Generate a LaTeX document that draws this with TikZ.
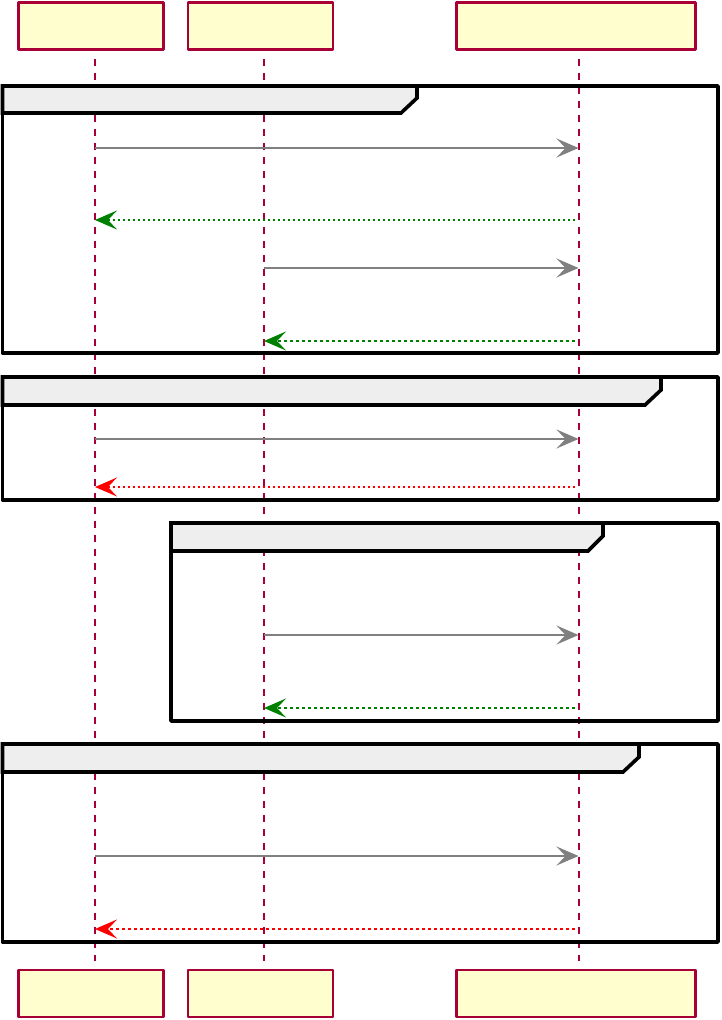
\documentclass[tikz,border=0pt]{standalone}
\usetikzlibrary{arrows.meta}
\definecolor{lifered}{HTML}{A80036}
\definecolor{boxyellow}{HTML}{FEFECE}
\definecolor{tabgray}{HTML}{EEEEEE}
\definecolor{okgreen}{HTML}{008000}
\tikzset{
  part/.style={draw=lifered, fill=boxyellow, line width=2.6pt, minimum height=47pt, inner sep=0pt},
  life/.style={draw=lifered, line width=1.6pt, dash pattern=on 7pt off 7pt},
  frm/.style={draw=black, line width=3.6pt},
  tabbox/.style={draw=black, fill=tabgray, line width=3.6pt, line join=miter},
  head/.style={-{Stealth[length=22pt, width=19pt, inset=9pt]}},
  call/.style={head, draw=gray, line width=1.3pt},
  callb/.style={head, draw=gray, line width=2.2pt},
  ret/.style={head, line width=1.3pt, dash pattern=on 2.5pt off 2.5pt},
  retb/.style={head, line width=2.2pt, dash pattern=on 3pt off 3pt}
}
\begin{document}
\begin{tikzpicture}[x=1pt, y=-1pt, line join=round]
  \useasboundingbox (0,0) rectangle (721,1020);
  % participants
  \node[part, minimum width=145pt] (ta) at (91.25,26) {};
  \node[part, minimum width=145pt] (tb) at (260.5,26) {};
  \node[part, minimum width=239pt] (tc) at (576,26) {};
  \node[part, minimum width=145pt] (ba) at (91.25,993.5) {};
  \node[part, minimum width=145pt] (bb) at (260.5,993.5) {};
  \node[part, minimum width=239pt] (bc) at (576,993.5) {};
  % lifelines
  \coordinate (la1) at (95,59);  \coordinate (la2) at (95,961);
  \coordinate (lb1) at (264,59); \coordinate (lb2) at (264,961);
  \coordinate (lc1) at (579,59); \coordinate (lc2) at (579,961);
  \draw[life] (la1)--(la2);
  \draw[life] (lb1)--(lb2);
  \draw[life] (lc1)--(lc2);
  % groups
  \filldraw[tabbox] (2.5,86)--(417,86)--(417,98)--(401,113)--(2.5,113)--cycle;
  \draw[frm] (2.5,86) rectangle (718,353);
  \filldraw[tabbox] (2.5,377)--(661,377)--(661,390)--(645,405)--(2.5,405)--cycle;
  \draw[frm] (2.5,377) rectangle (718,500);
  \filldraw[tabbox] (171,523)--(603,523)--(603,536)--(588,551)--(171,551)--cycle;
  \draw[frm] (171,523) rectangle (718,721);
  \filldraw[tabbox] (2.5,744)--(639,744)--(639,757)--(623,772)--(2.5,772)--cycle;
  \draw[frm] (2.5,744) rectangle (718,942);
  % messages
  \coordinate (a1) at (95,148);   \coordinate (c1) at (578.5,148);
  \coordinate (c2) at (575,220);  \coordinate (a2) at (95,220);
  \coordinate (b3) at (264,268);  \coordinate (c3) at (578.5,268);
  \coordinate (c4) at (575,341);  \coordinate (b4) at (264,341);
  \coordinate (a5) at (95,439);   \coordinate (c5) at (578.5,439);
  \coordinate (c6) at (575,487);  \coordinate (a6) at (95,487);
  \coordinate (b7) at (264,635);  \coordinate (c7) at (578.5,635);
  \coordinate (c8) at (575,708);  \coordinate (b8) at (264,708);
  \coordinate (a9) at (95,856);   \coordinate (c9) at (578.5,856);
  \coordinate (c10) at (575,929); \coordinate (a10) at (95,929);
  \draw[call] (a1)--(c1);
  \draw[ret, okgreen] (c2)--(a2);
  \draw[callb] (b3)--(c3);
  \draw[retb, okgreen] (c4)--(b4);
  \draw[callb] (a5)--(c5);
  \draw[ret, red] (c6)--(a6);
  \draw[callb] (b7)--(c7);
  \draw[retb, okgreen] (c8)--(b8);
  \draw[call] (a9)--(c9);
  \draw[retb, red] (c10)--(a10);
\end{tikzpicture}
\end{document}
